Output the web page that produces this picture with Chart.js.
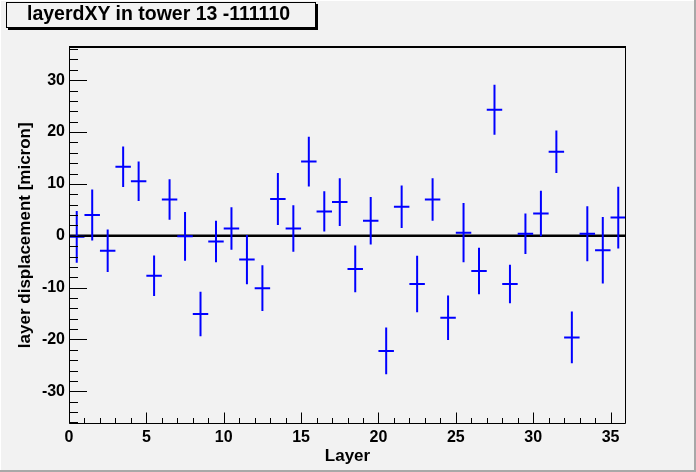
<!DOCTYPE html>
<html lang="en">
<head>
    <meta charset="UTF-8">
    <title>layerdXY in tower 13 -111110</title>
    <style>
        html, body {
            margin: 0;
            padding: 0;
            background: #f2f2f2;
        }
        #wrap {
            position: relative;
            width: 696px;
            height: 472px;
        }
        #titre {
            position: absolute;
            left: 6px;
            top: 2px;
            width: 310px;
            height: 26px;
            box-sizing: border-box;
            border: 1px solid #000;
            box-shadow: 2px 2px 0 #000;
            background: #f2f2f2;
            font: bold 19.5px "Liberation Sans", Arial, Helvetica, sans-serif;
            line-height: 20px;
            padding-left: 20px;
            white-space: nowrap;
            color: #000;
        }
    </style>
    <script src="https://cdn.jsdelivr.net/npm/chart.js"></script>
</head>
<body>
<div id="wrap">
    <canvas id="grafico" width="696" height="472"></canvas>
    <div id="titre">layerdXY in tower 13 -111110</div>
</div>

<script>
    // valori
    const layers = [0.5, 1.5, 2.5, 3.5, 4.5, 5.5, 6.5, 7.5, 8.5, 9.5, 10.5, 11.5,
                    12.5, 13.5, 14.5, 15.5, 16.5, 17.5, 18.5, 19.5, 20.5, 21.5, 22.5, 23.5,
                    24.5, 25.5, 26.5, 27.5, 28.5, 29.5, 30.5, 31.5, 32.5, 33.5, 34.5, 35.5];
    const disp = [-0.2, 4.0, -2.9, 13.3, 10.5, -7.7, 7.0, -0.1, -15.1, -1.1, 1.4, -4.6,
                  -10.1, 7.1, 1.4, 14.3, 4.7, 6.5, -6.4, 2.9, -22.2, 5.6, -9.3, 7.0,
                  -15.8, 0.6, -6.8, 24.3, -9.3, 0.4, 4.3, 16.2, -19.6, 0.4, -2.8, 3.5];
    const errs = [5.0, 4.9, 4.1, 3.9, 3.8, 3.9, 3.9, 4.7, 4.3, 4.0, 4.1, 4.75,
                  4.4, 5.0, 4.5, 4.8, 3.9, 4.6, 4.5, 4.6, 4.5, 4.1, 5.45, 4.1,
                  4.3, 5.7, 4.5, 4.8, 3.7, 3.9, 4.4, 4.1, 5.0, 5.3, 6.4, 5.95];
    const binHalf = 0.5;

    const xMajorTicks = [0, 5, 10, 15, 20, 25, 30, 35];
    const yMajorTicks = [-30, -20, -10, 0, 10, 20, 30];
    const X_MIN = 0, X_MAX = 36;
    const Y_MIN = -36.3, Y_MAX = 36.5;

    const FONT = '"Liberation Sans", Arial, Helvetica, sans-serif';
    Chart.defaults.font.family = FONT;
    Chart.defaults.color = '#000';

    // segmenti delle barre d'errore (null = interruzione della linea)
    const barreV = [];
    const barreH = [];
    layers.forEach((x, i) => {
        barreV.push({ x: x, y: disp[i] - errs[i] }, { x: x, y: disp[i] + errs[i] }, { x: x, y: null });
        barreH.push({ x: x - binHalf, y: disp[i] }, { x: x + binHalf, y: disp[i] }, { x: x, y: null });
    });

    const sfondo = {
        id: 'sfondo',
        beforeDraw(chart) {
            const c = chart.ctx;
            const w = chart.width, h = chart.height;
            c.save();
            c.fillStyle = '#f2f2f2';
            c.fillRect(0, 0, w, h);
            c.fillStyle = '#ffffff';
            c.fillRect(0, 0, w, 1);
            c.fillRect(0, 0, 1, h);
            c.fillStyle = '#a8a8a8';
            c.fillRect(w - 2, 0, 2, h);
            c.fillRect(0, h - 2, w, 2);
            c.restore();
        }
    };

    const cornice = {
        id: 'cornice',
        afterDatasetsDraw(chart) {
            const c = chart.ctx;
            const a = chart.chartArea;
            const xs = chart.scales.x, ys = chart.scales.y;
            const L = Math.round(a.left) + 0.5, R = Math.round(a.right) - 0.5;
            const T = Math.round(a.top), B = Math.round(a.bottom) - 0.5;
            c.save();
            c.strokeStyle = '#000';
            c.lineWidth = 1;
            c.beginPath();
            c.moveTo(L, T); c.lineTo(L, B); c.lineTo(R, B); c.lineTo(R, T);
            c.stroke();
            c.lineWidth = 2;
            c.beginPath();
            c.moveTo(L - 0.5, T); c.lineTo(R + 0.5, T);
            c.stroke();

            // tacche asse y (interne)
            c.lineWidth = 1;
            c.beginPath();
            for (let v = -36; v <= 36; v += 2) {
                const py = Math.round(ys.getPixelForValue(v)) + 0.5;
                const len = yMajorTicks.includes(v) ? 17.5 : 8.5;
                c.moveTo(L, py); c.lineTo(L + len, py);
            }
            // tacche asse x (interne)
            for (let v = X_MIN; v < X_MAX; v += 1) {
                const px = Math.round(xs.getPixelForValue(v)) + 0.5;
                const len = xMajorTicks.includes(v) ? 11 : 5.5;
                c.moveTo(px, B); c.lineTo(px, B - len);
            }
            c.stroke();
            c.restore();
        }
    };

    const ctx = document.getElementById('grafico').getContext('2d');
    const grafico = new Chart(ctx, {
        type: 'scatter',
        data: {
            datasets: [
                {
                    label: 'errore y',
                    data: barreV,
                    showLine: true,
                    spanGaps: false,
                    borderColor: '#0000ff',
                    borderWidth: 2,
                    borderCapStyle: 'butt',
                    pointRadius: 0,
                    pointHoverRadius: 0,
                },
                {
                    label: 'errore x',
                    data: barreH,
                    showLine: true,
                    spanGaps: false,
                    borderColor: '#0000ff',
                    borderWidth: 2,
                    borderCapStyle: 'butt',
                    pointRadius: 0,
                    pointHoverRadius: 0,
                },
                {
                    label: 'zero',
                    data: [{ x: X_MIN, y: 0 }, { x: X_MAX, y: 0 }],
                    showLine: true,
                    borderColor: '#000000',
                    borderWidth: 2.5,
                    pointRadius: 0,
                    pointHoverRadius: 0,
                },
            ],
        },
        options: {
            responsive: false,
            animation: false,
            devicePixelRatio: 1,
            events: [],
            layout: { padding: { top: 46.5, right: 70, left: 0, bottom: 0 } },
            plugins: {
                legend: { display: false },
                tooltip: { enabled: false },
            },
            scales: {
                x: {
                    type: 'linear',
                    min: X_MIN,
                    max: X_MAX,
                    afterBuildTicks: (s) => { s.ticks = xMajorTicks.map(v => ({ value: v })); },
                    afterFit: (s) => { s.height = 48; },
                    grid: { display: false, drawTicks: false },
                    border: { display: false },
                    ticks: {
                        autoSkip: false,
                        maxRotation: 0,
                        padding: 4,
                        color: '#000',
                        font: { size: 16, weight: 'bold' },
                    },
                    title: {
                        display: true,
                        text: 'Layer',
                        color: '#000',
                        font: { size: 17, weight: 'bold' },
                        padding: { top: 0, bottom: 5 },
                    },
                },
                y: {
                    type: 'linear',
                    min: Y_MIN,
                    max: Y_MAX,
                    afterBuildTicks: (s) => { s.ticks = yMajorTicks.map(v => ({ value: v })); },
                    afterFit: (s) => { s.width = 69; },
                    grid: { display: false, drawTicks: false },
                    border: { display: false },
                    ticks: {
                        padding: 4,
                        color: '#000',
                        font: { size: 16, weight: 'bold' },
                    },
                    title: {
                        display: true,
                        text: 'layer displacement [micron]',
                        color: '#000',
                        font: { size: 17, weight: 'bold' },
                        padding: { top: 15, bottom: 0 },
                    },
                },
            },
        },
        plugins: [sfondo, cornice],
    });
</script>
</body>
</html>
